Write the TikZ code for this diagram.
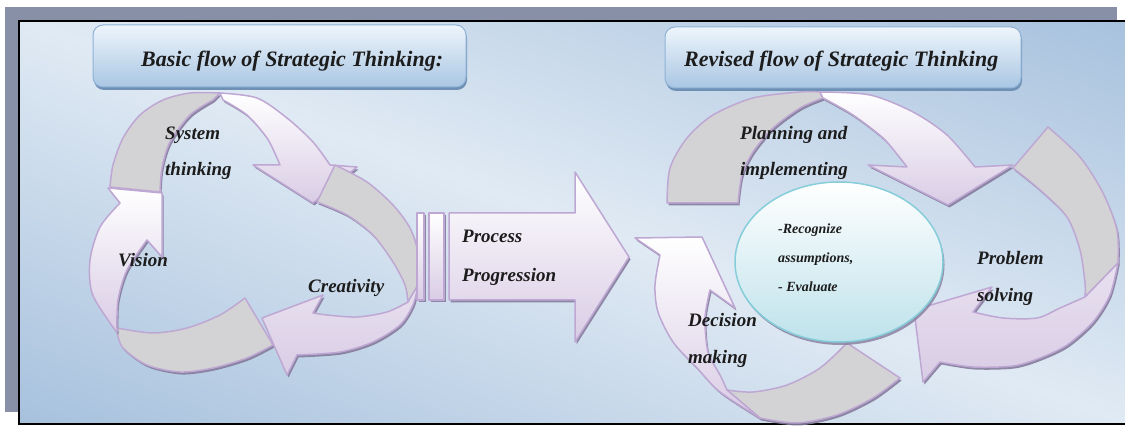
\documentclass[tikz,border=0pt]{standalone}
\usepackage{fontspec}
\setmainfont{Liberation Serif}
\usepackage{tikz}
\usetikzlibrary{shapes.geometric,shadows}
\definecolor{framegray}{HTML}{8890A8}
\definecolor{bgdark}{HTML}{A4BFDC}
\definecolor{bglight}{HTML}{E0EAF4}
\definecolor{titletop}{HTML}{EEF5FB}
\definecolor{titlebot}{HTML}{A9C6E3}
\definecolor{titlerim}{HTML}{8FB2D6}
\definecolor{titleshade}{HTML}{6F90B5}
\definecolor{facegray}{HTML}{D3D3D5}
\definecolor{rimlav}{HTML}{BEA8D3}
\definecolor{lavface}{HTML}{D9CCE5}
\definecolor{arrowshade}{HTML}{857C9C}
\definecolor{ovalbot}{HTML}{BEE2EB}
\definecolor{ovalrim}{HTML}{86CDDA}
\definecolor{inkblack}{HTML}{1C1C1C}
\newcommand{\flowLabel}[3]{
  \node[flowtext] (#1) at #2 {#3}
}

\begin{document}
\begin{tikzpicture}[x=1pt,y=-1pt,
  backface/.style={fill=facegray, draw=rimlav, line width=1.5pt, line join=round,
    drop shadow={shadow xshift=1.5pt, shadow yshift=-2.5pt, fill=arrowshade, opacity=.9}},
  frontface/.style={top color=white, bottom color=lavface, draw=rimlav, line width=1.5pt, line join=round,
    drop shadow={shadow xshift=1.5pt, shadow yshift=-2.5pt, fill=arrowshade, opacity=.9}},
  lavfront/.style={frontface, top color=lavface!60},
  titlebox/.style={rounded corners=10pt, top color=titletop, bottom color=titlebot, draw=titlerim, line width=1pt,
    drop shadow={shadow xshift=1pt, shadow yshift=-3pt, fill=titleshade, opacity=1}},
  flowtext/.style={anchor=base west, inner sep=0pt, text=inkblack, font=\fontsize{19}{19}\selectfont\bfseries\itshape},
  titletext/.style={flowtext, font=\fontsize{22}{22}\selectfont\bfseries\itshape},
  ovaltext/.style={flowtext, font=\fontsize{14}{14}\selectfont\bfseries\itshape},
  oval/.style={ellipse, minimum width=208pt, minimum height=160pt, top color=white, bottom color=ovalbot,
    draw=ovalrim, line width=1.5pt, drop shadow={shadow xshift=1.5pt, shadow yshift=-3pt, fill=arrowshade, opacity=.8}}]
  \useasboundingbox (0,0) rectangle (1125,427);
  \clip (0,0) rectangle (1125,427);

  \fill[framegray] (5,7) rectangle (1117,412);
  \begin{scope}
    \clip (19,21) rectangle (1140,424);
    \shade[transform canvas={rotate around={-20:(572,222)}}, top color=bgdark, bottom color=bgdark, middle color=bglight]
      (-200,-180) rectangle (1340,620);
  \end{scope}
  \draw[black, line width=1.2pt] (19,21) rectangle (1140,424);

  \path[titlebox] (93,25) rectangle (466,87);
  \path[titlebox] (665,27) rectangle (1021,88);
  \node[titletext] (titleBasic) at (141,67) {Basic flow of Strategic Thinking:};
  \node[titletext] (titleRevised) at (684,67) {Revised flow of Strategic Thinking};

  % left cycle
  \filldraw[backface] (110,187) -- plot[smooth] coordinates {(110,187) (113,165) (123,138) (140,115) (163,100) (190,93) (220,93)}
    -- (213,100) -- plot[smooth] coordinates {(213,100) (190,115) (170,142) (162,168) (160,192)} -- cycle;
  \filldraw[frontface] (220,93) -- plot[smooth] coordinates {(220,93) (257,98) (287,118) (313,142) (330,165)}
    -- (357,167) -- (313,203) -- (253,165) -- (280,165)
    -- plot[smooth] coordinates {(280,165) (277,158) (267,138) (247,115) (223,100)} -- cycle;

  \filldraw[backface] (245,298) -- (273,345) -- plot[smooth] coordinates {(273,345) (247,358) (213,368) (180,372) (147,365) (123,348) (117,332)}
    -- (117,328) -- plot[smooth] coordinates {(117,328) (153,333) (187,328) (220,315) (245,298)} -- cycle;
  \filldraw[frontface] (117,332) -- plot[smooth] coordinates {(117,332) (110,323) (92,293) (90,260) (100,227) (120,203)}
    -- (108,188) -- (162,193) -- (162,257) -- (147,240)
    -- plot[smooth] coordinates {(147,240) (127,270) (118,300) (117,328)} -- cycle;

  \filldraw[backface] (335,165) -- plot[smooth] coordinates {(335,165) (367,182) (393,205) (410,228) (418,252) (418,272) (418,285)}
    -- (408,302) -- plot[smooth] coordinates {(408,302) (405,285) (393,262) (373,235) (347,215) (317,202)} -- cycle;
  \filldraw[lavfront] (418,285) -- plot[smooth] coordinates {(418,285) (413,305) (400,325) (373,342) (340,352) (297,355)}
    -- (287,375) -- (262,318) -- (323,295) -- (313,313)
    -- plot[smooth] coordinates {(313,313) (327,315) (357,317) (387,312) (408,302)} -- cycle;

  % process arrow
  \filldraw[frontface] (417,213) rectangle (424,300);
  \filldraw[frontface] (429,213) rectangle (444,300);
  \filldraw[frontface] (449,213) -- (575,213) -- (575,172) -- (629,257) -- (575,342) -- (575,300) -- (449,300) -- cycle;

  % right cycle
  \filldraw[backface] (667,203) -- plot[smooth] coordinates {(667,203) (670,168) (687,138) (713,115) (753,98) (800,92) (820,92)}
    -- (823,98) -- plot[smooth] coordinates {(823,98) (800,108) (773,128) (753,152) (742,175) (738,203)} -- cycle;
  \filldraw[frontface] (820,92) -- plot[smooth] coordinates {(820,92) (870,95) (913,112) (947,135) (975,167)}
    -- (1013,165) -- (948,205) -- (868,165) -- (907,167)
    -- plot[smooth] coordinates {(907,167) (900,158) (883,138) (853,115) (823,98)} -- cycle;

  \filldraw[backface] (1013,168) -- (1048,127) -- plot[smooth] coordinates {(1048,127) (1080,157) (1103,193) (1117,230) (1118,263)}
    -- (1085,297) -- plot[smooth] coordinates {(1085,297) (1085,283) (1080,250) (1067,217) (1040,190) (1013,168)} -- cycle;
  \filldraw[lavfront] (1118,263) -- plot[smooth] coordinates {(1118,263) (1110,295) (1093,322) (1067,345) (1040,358) (1013,366) (973,367) (940,362)}
    -- (923,382) -- (914,310) -- (992,287) -- (973,312)
    -- plot[smooth] coordinates {(973,312) (1003,318) (1037,318) (1060,308) (1085,297)} -- cycle;

  \filldraw[backface] (847,343) -- (900,378) -- plot[smooth] coordinates {(900,378) (873,398) (837,415) (797,423) (760,418)}
    -- (727,390) -- plot[smooth] coordinates {(727,390) (753,392) (787,385) (820,368) (847,343)} -- cycle;
  \filldraw[frontface] (760,418) -- plot[smooth] coordinates {(760,418) (720,392) (697,368) (673,342) (658,312) (655,285) (660,255)}
    -- (635,238) -- (702,237) -- (735,308) -- (710,290)
    -- plot[smooth] coordinates {(710,290) (705,318) (708,352) (720,375) (727,390)} -- cycle;

  \node[oval] (assume) at (839,262) {};
  \node[ovaltext] (recognize) at (778,234) {-Recognize};
  \node[ovaltext] (assumptions) at (778,263) {assumptions,};
  \node[ovaltext] (evaluate) at (778,292) {- Evaluate};

  \flowLabel{system}{(165,140)}{System};
  \flowLabel{thinking}{(165,176)}{thinking};
  \flowLabel{vision}{(118,267)}{Vision};
  \flowLabel{creativity}{(308,293)}{Creativity};
  \flowLabel{process}{(462,243)}{Process};
  \flowLabel{progression}{(462,282)}{Progression};
  \flowLabel{planning}{(740,140)}{Planning and};
  \flowLabel{implementing}{(740,176)}{implementing};
  \flowLabel{problem}{(977,265)}{Problem};
  \flowLabel{solving}{(977,302)}{solving};
  \flowLabel{decision}{(688,327)}{Decision};
  \flowLabel{making}{(688,364)}{making};
\end{tikzpicture}
\end{document}
